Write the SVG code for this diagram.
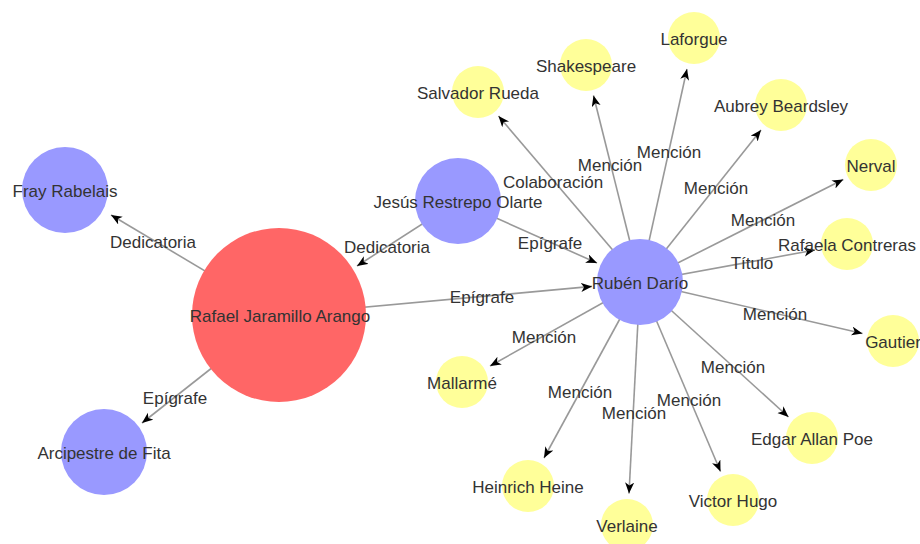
<svg xmlns="http://www.w3.org/2000/svg" width="920" height="544" viewBox="0 0 920 544">
<style>
text{font-family:"Liberation Sans",Arial,sans-serif;font-size:17px;fill:#333;text-anchor:middle}
.e line{stroke:#999;stroke-width:1.6;marker-end:url(#arr)}
.blue{fill:#9999ff}.red{fill:#ff6666}.yel{fill:#ffff99}
</style>
<defs>
<marker id="arr" markerUnits="userSpaceOnUse" markerWidth="12" markerHeight="10" refX="11" refY="4.5" orient="auto" viewBox="0 0 12 10">
<path d="M0,0 L11,4.5 L0,9 L3,4.5 z" fill="#000"/>
</marker>
</defs>
<rect width="920" height="544" fill="#fff"/>
<g id="connectors" class="e">
<line x1="279" y1="315" x2="111" y2="215"/>
<line x1="458" y1="201" x2="357" y2="266"/>
<line x1="279" y1="315" x2="142" y2="423"/>
<line x1="279" y1="315" x2="592" y2="286.4"/>
<line x1="458" y1="201" x2="597" y2="263"/>
<line x1="640" y1="282" x2="498.5" y2="116"/>
<line x1="640" y1="282" x2="593.5" y2="95.5"/>
<line x1="640" y1="282" x2="687" y2="69"/>
<line x1="640" y1="282" x2="761" y2="130"/>
<line x1="640" y1="282" x2="843.3" y2="179.5"/>
<line x1="640" y1="282" x2="815" y2="250"/>
<line x1="640" y1="282" x2="862.5" y2="333.5"/>
<line x1="640" y1="282" x2="788.5" y2="417"/>
<line x1="640" y1="282" x2="720.5" y2="471.5"/>
<line x1="640" y1="282" x2="629" y2="493.5"/>
<line x1="640" y1="282" x2="544" y2="458"/>
<line x1="640" y1="282" x2="490" y2="366"/>
</g>
<g id="edge-labels">
<text x="153" y="248">Dedicatoria</text>
<text x="387" y="253">Dedicatoria</text>
<text x="175" y="404">Epígrafe</text>
<text x="482" y="303">Epígrafe</text>
<text x="550" y="249">Epígrafe</text>
<text x="553" y="188">Colaboración</text>
<text x="610" y="171">Mención</text>
<text x="669" y="158">Mención</text>
<text x="716" y="194">Mención</text>
<text x="763" y="226">Mención</text>
<text x="752" y="269">Título</text>
<text x="775" y="320">Mención</text>
<text x="733" y="373">Mención</text>
<text x="689" y="406">Mención</text>
<text x="634" y="419">Mención</text>
<text x="580" y="398">Mención</text>
<text x="544" y="343">Mención</text>
</g>
<g id="n-rafael"><circle class="red" cx="279" cy="315" r="87"/><text x="280" y="322">Rafael Jaramillo Arango</text></g>
<g id="n-fray"><circle class="blue" cx="65" cy="190" r="43"/><text x="65" y="197">Fray Rabelais</text></g>
<g id="n-arcipestre"><circle class="blue" cx="104" cy="452" r="43"/><text x="104" y="459">Arcipestre de Fita</text></g>
<g id="n-jesus"><circle class="blue" cx="458" cy="201" r="43"/><text x="458" y="208">Jesús Restrepo Olarte</text></g>
<g id="n-ruben"><circle class="blue" cx="640" cy="282" r="43"/><text x="640" y="289">Rubén Darío</text></g>
<g id="n-salvador"><circle class="yel" cx="478" cy="92" r="26"/><text x="478" y="99">Salvador Rueda</text></g>
<g id="n-shakespeare"><circle class="yel" cx="586" cy="65" r="26"/><text x="586" y="72">Shakespeare</text></g>
<g id="n-laforgue"><circle class="yel" cx="694" cy="38" r="26"/><text x="694" y="45">Laforgue</text></g>
<g id="n-aubrey"><circle class="yel" cx="781" cy="105" r="26"/><text x="781" y="112">Aubrey Beardsley</text></g>
<g id="n-nerval"><circle class="yel" cx="871" cy="165" r="26"/><text x="871" y="172">Nerval</text></g>
<g id="n-rafaela"><circle class="yel" cx="847" cy="244" r="26"/><text x="847" y="251">Rafaela Contreras</text></g>
<g id="n-gautier"><circle class="yel" cx="893" cy="341" r="26"/><text x="893" y="348">Gautier</text></g>
<g id="n-poe"><circle class="yel" cx="812" cy="438" r="26"/><text x="812" y="445">Edgar Allan Poe</text></g>
<g id="n-hugo"><circle class="yel" cx="733" cy="500" r="26"/><text x="733" y="507">Victor Hugo</text></g>
<g id="n-verlaine"><circle class="yel" cx="627" cy="525" r="26"/><text x="627" y="532">Verlaine</text></g>
<g id="n-heine"><circle class="yel" cx="528" cy="486" r="26"/><text x="528" y="493">Heinrich Heine</text></g>
<g id="n-mallarme"><circle class="yel" cx="462" cy="382" r="26"/><text x="462" y="389">Mallarmé</text></g>
</svg>
